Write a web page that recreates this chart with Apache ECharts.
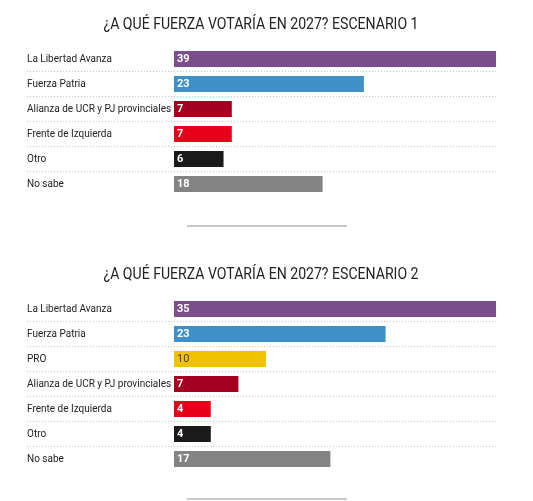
<!DOCTYPE html>
<html>
<head>
<meta charset="utf-8">
<script src="https://cdn.jsdelivr.net/npm/echarts@6/dist/echarts.min.js"></script>
<style>
html,body{margin:0;padding:0;background:#fff;}
#c{width:533px;height:501px;}
</style>
</head>
<body>
<div id="c"></div>
<script>
const title1 = "¿A QUÉ FUERZA VOTARÍA EN 2027? ESCENARIO 1";
const cats1 = ["La Libertad Avanza", "Fuerza Patria", "Alianza de UCR y PJ provinciales", "Frente de Izquierda", "Otro", "No sabe"];
const vals1 = [39, 23, 7, 7, 6, 18];
const colors1 = ["#7a4e8b", "#3f8fc9", "#a3001f", "#e8001b", "#1a1a1a", "#838383"];
const labelColors1 = ["#fff", "#fff", "#fff", "#fff", "#fff", "#fff"];

const title2 = "¿A QUÉ FUERZA VOTARÍA EN 2027? ESCENARIO 2";
const cats2 = ["La Libertad Avanza", "Fuerza Patria", "PRO", "Alianza de UCR y PJ provinciales", "Frente de Izquierda", "Otro", "No sabe"];
const vals2 = [35, 23, 10, 7, 4, 4, 17];
const colors2 = ["#7a4e8b", "#3f8fc9", "#f0c300", "#a3001f", "#e8001b", "#1a1a1a", "#838383"];
const labelColors2 = ["#fff", "#fff", "#4d3f00", "#fff", "#fff", "#fff", "#fff"];

const FONT = "Roboto";
const LABEL_W = 147, BAR_W = 322;

function build(vals, colors, lcols) {
  return vals.map((v, i) => ({
    value: v,
    itemStyle: { color: colors[i] },
    label: { color: lcols[i], fontWeight: lcols[i] === "#fff" ? "bold" : "normal" }
  }));
}

function yAx(cats, gi) {
  return {
    type: "category", gridIndex: gi, data: cats, inverse: true,
    axisLine: { show: false, onZero: false }, axisTick: { show: false },
    axisLabel: { inside: true, margin: 0, color: "#222", fontSize: 10, fontFamily: FONT,
      overflow: "none", width: 200 },
    splitLine: { show: true, showMinLine: false, showMaxLine: false,
      lineStyle: { type: [1, 2], color: "#c4c4c4", width: 1 } }
  };
}
function xAx(gi) {
  return {
    type: "value", gridIndex: gi, max: "dataMax",
    min: v => -v.max * LABEL_W / BAR_W,
    show: false
  };
}
function ser(vals, colors, lcols, gi) {
  return {
    type: "bar", xAxisIndex: gi, yAxisIndex: gi, barWidth: 16,
    data: build(vals, colors, lcols), silent: true,
    label: { show: true, position: "insideLeft", distance: 3, fontSize: 11, fontFamily: FONT },
    animation: false
  };
}
function titleText(text, y) {
  return {
    type: "text", x: 261, y: y, scaleX: 0.88, silent: true,
    style: { text: text, x: 0, y: 0, align: "center", verticalAlign: "middle",
      font: "normal 16px " + FONT, fill: "#222" }
  };
}

const chart = echarts.init(document.getElementById("c"));
chart.setOption({
  animation: false,
  grid: [
    { left: 27, width: LABEL_W + BAR_W, top: 46.5, height: 25 * cats1.length },
    { left: 27, width: LABEL_W + BAR_W, top: 296.5, height: 25 * cats2.length }
  ],
  xAxis: [xAx(0), xAx(1)],
  yAxis: [yAx(cats1, 0), yAx(cats2, 1)],
  series: [ser(vals1, colors1, labelColors1, 0), ser(vals2, colors2, labelColors2, 1)],
  graphic: [
    titleText(title1, 25),
    titleText(title2, 275),
    { type: "line", shape: { x1: 187, y1: 226, x2: 347, y2: 226 }, style: { stroke: "#c8c8c8", lineWidth: 2 } },
    { type: "line", shape: { x1: 187, y1: 499, x2: 347, y2: 499 }, style: { stroke: "#c8c8c8", lineWidth: 2 } }
  ]
});
</script>
</body>
</html>
